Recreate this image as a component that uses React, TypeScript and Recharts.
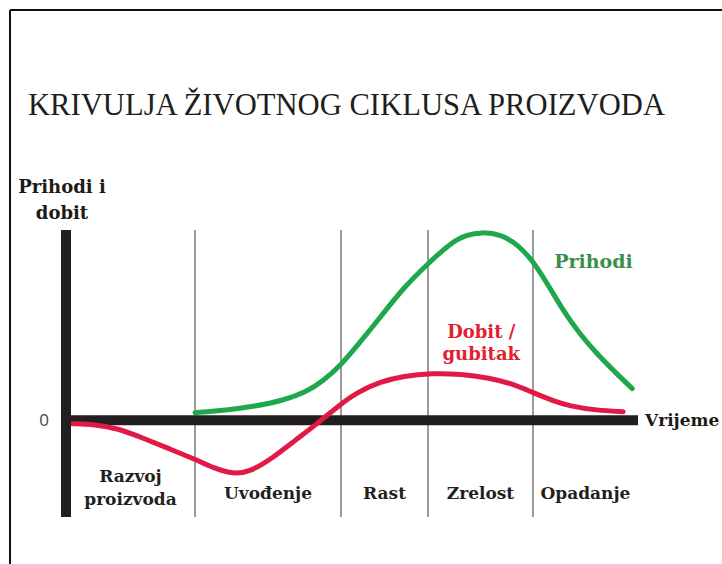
import React from 'react';
import {
  ComposedChart,
  Line,
  XAxis,
  YAxis,
  ReferenceLine,
  ReferenceArea,
  ReferenceDot,
} from 'recharts';

// ---- data (time in arbitrary units 0..100, value in arbitrary units) ----
const revenueTime = [22.55, 28, 33, 38, 42, 45, 48.1, 51, 55, 59, 63.3, 67.1, 70, 72.8, 76, 79, 81.6, 84.3, 86.9, 89.8, 92.8, 96, 99];
const revenueValues = [4.0, 5.3, 7.3, 10.5, 15, 21, 29.5, 40, 55, 70.6, 83.4, 94.1, 98.8, 100.2, 99, 93.5, 85, 72, 58.4, 46, 35.4, 25.5, 16.8];

const profitTime = [1.05, 5, 9, 13.5, 18, 22.55, 26, 29.3, 32.2, 36.2, 40, 43.9, 47.9, 51, 55, 59, 64, 69, 74, 78, 81.6, 85, 88, 92.8, 97.4];
const profitValues = [-1.9, -2.3, -4.3, -9.6, -15.2, -20.8, -25.8, -28.8, -27.5, -20, -10.9, -1.9, 8.3, 15, 20.5, 23.5, 25, 24.6, 22.5, 19.5, 14.7, 10.5, 7.5, 5.2, 4.5];

const stageBounds = [0, 22.55, 48.08, 63.29, 81.64, 100];
const stageNames = [['Razvoj', 'proizvoda'], ['Uvođenje'], ['Rast'], ['Zrelost'], ['Opadanje']];
const yTicks = [0];

const title = 'KRIVULJA ŽIVOTNOG CIKLUSA PROIZVODA';
const yTitle = ['Prihodi i', 'dobit'];
const xTitle = 'Vrijeme';
const revenueName = 'Prihodi';
const profitName = ['Dobit /', 'gubitak'];
const revenueLabelAt = { x: 92.2, y: 84.5 };
const profitLabelAt = { x: 72.6, y: 47 };

const revenueData = revenueTime.map((t, i) => ({ t, v: revenueValues[i] }));
const profitData = profitTime.map((t, i) => ({ t, v: profitValues[i] }));

const GREEN = '#1ea84b';
const RED = '#e01a45';
const LABEL_FONT = '"DejaVu Serif", "Liberation Serif", serif';

const StageLabel = (lines: string[]) => (props: any) => {
  const vb = props.viewBox || {};
  const cx = vb.x + vb.width / 2;
  const bottom = vb.y + vb.height;
  if (lines.length === 1) {
    return (
      <text x={cx} y={bottom - 18} textAnchor="middle" fontFamily={LABEL_FONT} fontWeight="bold" fontSize={17} fill="#231f20">
        {lines[0]}
      </text>
    );
  }
  return (
    <text textAnchor="middle" fontFamily={LABEL_FONT} fontWeight="bold" fontSize={17} fill="#231f20">
      <tspan x={cx} y={bottom - 35}>{lines[0]}</tspan>
      <tspan x={cx} y={bottom - 12}>{lines[1]}</tspan>
    </text>
  );
};

const RevenueLabel = (props: any) => {
  const vb = props.viewBox || {};
  return (
    <text x={vb.x} y={vb.y + 6} textAnchor="middle" fontFamily={LABEL_FONT} fontWeight="bold" fontSize={19} fill="#3a8f4a">
      {revenueName}
    </text>
  );
};

const ProfitLabel = (props: any) => {
  const vb = props.viewBox || {};
  return (
    <text textAnchor="middle" fontFamily={LABEL_FONT} fontWeight="bold" fontSize={18} fill="#e3202e">
      <tspan x={vb.x} y={vb.y + 6}>{profitName[0]}</tspan>
      <tspan x={vb.x} y={vb.y + 28}>{profitName[1]}</tspan>
    </text>
  );
};

export default function App() {
  return (
    <div style={{ position: 'absolute', left: 0, top: 0, width: 722, height: 564, background: '#fff', overflow: 'hidden' }}>
      <ComposedChart width={722} height={564} margin={{ top: 230, right: 84, bottom: 47, left: 6 }}>
        <XAxis dataKey="t" type="number" domain={[0, 100]} hide allowDataOverflow />
        <YAxis
          type="number"
          domain={[-51.6, 101.3]}
          width={60}
          ticks={yTicks}
          tickLine={false}
          tickSize={0}
          tickMargin={17}
          axisLine={{ stroke: '#231f20', strokeWidth: 10 }}
          tick={{ fill: '#444', fontSize: 17, fontFamily: '"Open Sans", "Liberation Sans", sans-serif' }}
          allowDataOverflow
        />
        {stageNames.map((lines, i) => (
          <ReferenceArea
            key={'a' + i}
            x1={stageBounds[i]}
            x2={stageBounds[i + 1]}
            fill="none"
            fillOpacity={0}
            stroke="none"
            label={StageLabel(lines)}
          />
        ))}
        {stageBounds.slice(1, -1).map((b, i) => (
          <ReferenceLine key={'s' + i} x={b} stroke="#7a7a7a" strokeWidth={1.5} />
        ))}
        <ReferenceLine y={0} stroke="#231f20" strokeWidth={10} />
        <Line
          data={revenueData}
          dataKey="v"
          type="basis"
          stroke={GREEN}
          strokeWidth={5}
          dot={false}
          isAnimationActive={false}
          strokeLinecap="round"
        />
        <Line
          data={profitData}
          dataKey="v"
          type="basis"
          stroke={RED}
          strokeWidth={5}
          dot={false}
          isAnimationActive={false}
          strokeLinecap="round"
        />
        <ReferenceDot x={revenueLabelAt.x} y={revenueLabelAt.y} r={0} fill="none" stroke="none" label={RevenueLabel} />
        <ReferenceDot x={profitLabelAt.x} y={profitLabelAt.y} r={0} fill="none" stroke="none" label={ProfitLabel} />
      </ComposedChart>
      <svg width={722} height={564} style={{ position: 'absolute', left: 0, top: 0, pointerEvents: 'none' }}>
        <line x1={10} y1={10} x2={722} y2={10} stroke="#111" strokeWidth={2} />
        <line x1={10} y1={10} x2={10} y2={564} stroke="#111" strokeWidth={2} />
        <text x={28} y={115} fontFamily='"Liberation Serif", serif' fontSize={31} fill="#1e1e1e" textLength={637} lengthAdjust="spacingAndGlyphs">
          {title}
        </text>
        <text textAnchor="middle" fontFamily={LABEL_FONT} fontWeight="bold" fontSize={18} fill="#1f1a17">
          <tspan x={62} y={193}>{yTitle[0]}</tspan>
          <tspan x={62} y={219}>{yTitle[1]}</tspan>
        </text>
        <text x={645} y={426} fontFamily={LABEL_FONT} fontWeight="bold" fontSize={17} fill="#1f1a17">
          {xTitle}
        </text>
      </svg>
    </div>
  );
}
